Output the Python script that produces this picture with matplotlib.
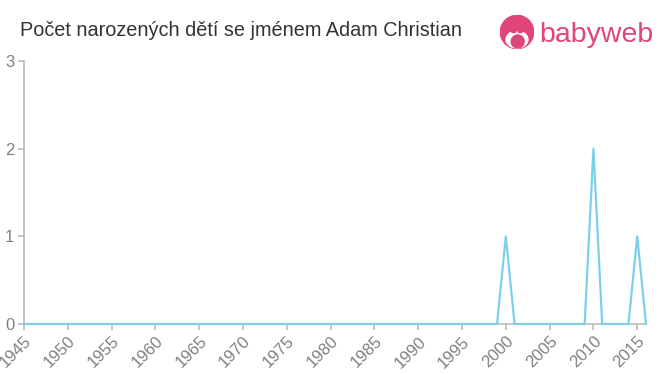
import matplotlib.pyplot as plt
import matplotlib.patches as mpatches

plt.rcParams['font.family'] = ['Liberation Sans', 'DejaVu Sans']

# data
years = list(range(1945, 2017))
counts = [0] * len(years)
counts[years.index(2000)] = 1
counts[years.index(2010)] = 2
counts[years.index(2015)] = 1

xticks = list(range(1945, 2016, 5))
yticks = [0, 1, 2, 3]

title = "Počet narozených dětí se jménem Adam Christian"

fig = plt.figure(figsize=(6.6, 3.75), dpi=100)
ax = fig.add_axes([24 / 660, 1 - 324 / 375, (646 - 24) / 660, (324 - 61) / 375])

ax.plot(years, counts, color="#7dcfea", linewidth=1.6, clip_on=False, zorder=3)

ax.set_xlim(1945, 2016)
ax.set_ylim(0, 3)
ax.set_xticks(xticks)
ax.set_yticks(yticks)
ax.set_xticklabels([str(x) for x in xticks], rotation=45, ha="right",
                   rotation_mode="anchor")

for s in ["top", "right"]:
    ax.spines[s].set_visible(False)
for s in ["left", "bottom"]:
    ax.spines[s].set_color("#bbbbbb")
    ax.spines[s].set_linewidth(1.2)
ax.tick_params(axis="both", colors="#bbbbbb", labelcolor="#808080",
               labelsize=12, length=4, width=1.2)
ax.tick_params(axis="x", pad=3)
ax.tick_params(axis="y", pad=3)

fig.text(20 / 660, 1 - 30 / 375, title, fontsize=14.3, color="#333333",
         va="center", ha="left")

# logo
pink = "#e0457b"
logo = fig.add_axes([500 / 660, 1 - 49 / 375, 34 / 660, 34 / 375])
logo.set_xlim(0, 1)
logo.set_ylim(0, 1)
logo.set_aspect("equal")
logo.axis("off")
logo.add_patch(mpatches.Circle((0.5, 0.5), 0.49, color=pink))
logo.add_patch(mpatches.Ellipse((0.5, 0.28), 0.64, 0.5, color="white"))
logo.add_patch(mpatches.Circle((0.4, 0.56), 0.08, color=pink))
logo.add_patch(mpatches.Circle((0.6, 0.56), 0.08, color=pink))
logo.add_patch(mpatches.Circle((0.52, 0.22), 0.19, color=pink))
fig.text(539 / 660, 1 - 35 / 375, "babyweb", fontsize=20.5, color=pink,
         va="center", ha="left")

fig.savefig("out.png", dpi=100)
